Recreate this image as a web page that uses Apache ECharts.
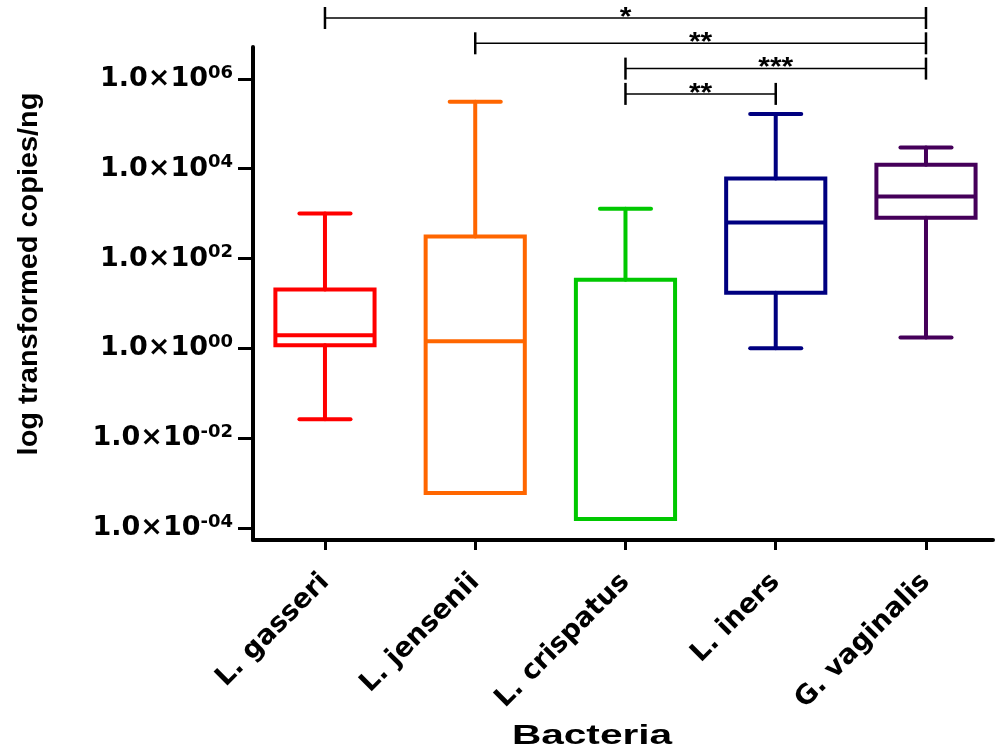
<!DOCTYPE html>
<html>
<head>
<meta charset="utf-8">
<script src="https://cdn.jsdelivr.net/npm/echarts@6.0.0/dist/echarts.min.js"></script>
<style>
  html, body { margin: 0; padding: 0; background: #fff; }
  #main { width: 995px; height: 755px; }
</style>
</head>
<body>
<div id="main"></div>
<script>
// categories on the x axis
var categories = ['L. gasseri', 'L. jensenii', 'L. crispatus', 'L. iners', 'G. vaginalis'];
// box plot values, log10(copies/ng)
var whiskerLow  = [-1.58, -3.22, -3.80, 0.00, 0.24];
var quartile1   = [ 0.07, -3.22, -3.80, 1.24, 2.91];
var medians     = [ 0.29,  0.16, -3.80, 2.80, 3.38];
var quartile3   = [ 1.31,  2.49,  1.53, 3.78, 4.09];
var whiskerHigh = [ 3.00,  5.49,  3.11, 5.22, 4.47];
// y tick exponents
var yTicks = [-4, -2, 0, 2, 4, 6];
// significance brackets
var compFrom  = [0, 1, 2, 2];
var compTo    = [4, 4, 4, 3];
var compLabel = ['*', '**', '***', '**'];

var palette = ['#FF0000', '#FF6600', '#00C800', '#000080', '#45005A'];

var boxData = categories.map(function (c, i) {
  return [i, whiskerLow[i], quartile1[i], medians[i], quartile3[i], whiskerHigh[i]];
});
var bracketData = compFrom.map(function (f, i) { return [f, compTo[i]]; });

function expLabel (v) {
  var n = Math.round(v);
  var s = (n < 0 ? '-' : '') + (Math.abs(n) < 10 ? '0' : '') + Math.abs(n);
  return '{m|1.0\u00d710}{e|' + s + '}';
}

function renderBox (params, api) {
  var i = api.value(0);
  var band = api.size([1, 0])[0];
  var hb = band * 0.33, hc = band * 0.17;
  var p = function (k) { return api.coord([i, api.value(k)]); };
  var lo = p(1), q1 = p(2), md = p(3), q3 = p(4), hi = p(5);
  var cx = md[0];
  var st = { stroke: palette[i], lineWidth: 4, lineCap: 'round' };
  var ch = [];
  if (api.value(5) > api.value(4)) {
    ch.push({ type: 'line', shape: { x1: cx, y1: q3[1], x2: cx, y2: hi[1] }, style: st });
    ch.push({ type: 'line', shape: { x1: cx - hc, y1: hi[1], x2: cx + hc, y2: hi[1] }, style: st });
  }
  if (api.value(1) < api.value(2)) {
    ch.push({ type: 'line', shape: { x1: cx, y1: q1[1], x2: cx, y2: lo[1] }, style: st });
    ch.push({ type: 'line', shape: { x1: cx - hc, y1: lo[1], x2: cx + hc, y2: lo[1] }, style: st });
  }
  ch.push({ type: 'rect', shape: { x: cx - hb, y: q3[1], width: hb * 2, height: q1[1] - q3[1] },
    style: { stroke: palette[i], lineWidth: 4, fill: 'transparent' } });
  ch.push({ type: 'line', shape: { x1: cx - hb, y1: md[1], x2: cx + hb, y2: md[1] },
    style: { stroke: palette[i], lineWidth: 4 } });
  return { type: 'group', children: ch };
}

function renderBracket (params, api) {
  var a = api.coord([api.value(0), 0])[0];
  var b = api.coord([api.value(1), 0])[0];
  var y = params.coordSys.y - 29 + params.dataIndex * 25.3;
  var st = { stroke: '#000', lineWidth: 1.5 };
  var tk = { stroke: '#000', lineWidth: 2.5 };
  return {
    type: 'group',
    children: [
      { type: 'line', shape: { x1: a, y1: y, x2: b, y2: y }, style: st },
      { type: 'line', shape: { x1: a, y1: y - 11, x2: a, y2: y + 11 }, style: tk },
      { type: 'line', shape: { x1: b, y1: y - 11, x2: b, y2: y + 11 }, style: tk },
      { type: 'text', x: (a + b) / 2, y: y, scaleX: 1.2,
        style: { text: compLabel[params.dataIndex], font: 'bold 25px "Liberation Sans"', fill: '#000',
          align: 'center', verticalAlign: 'middle' } }
    ]
  };
}

var myChart = echarts.init(document.getElementById('main'));
var option = {
  animation: false,
  backgroundColor: '#fff',
  grid: { left: 253, right: 2, top: 47, bottom: 215 },
  xAxis: {
    type: 'value',
    min: -0.479,
    max: 4.446,
    splitLine: { show: false },
    axisLine: { show: true, onZero: false, lineStyle: { color: '#000', width: 4 } },
    axisTick: { show: true, customValues: [0, 1, 2, 3, 4], length: 10, lineStyle: { color: '#000', width: 3 } },
    axisLabel: {
      customValues: [0, 1, 2, 3, 4],
      formatter: function (v) { return categories[Math.round(v)]; },
      rotate: 45,
      margin: 38,
      color: '#000',
      fontFamily: 'DejaVu Sans',
      fontWeight: 'bold',
      fontSize: 27
    }
  },
  yAxis: {
    type: 'value',
    min: -4.267,
    max: 6.71,
    splitLine: { show: false },
    axisLine: { show: true, onZero: false, lineStyle: { color: '#000', width: 4 } },
    axisTick: { show: true, customValues: yTicks, length: 15, lineStyle: { color: '#000', width: 3 } },
    axisLabel: {
      customValues: yTicks,
      formatter: expLabel,
      margin: 20,
      rich: {
        m: { fontFamily: 'DejaVu Sans', fontWeight: 'bold', fontSize: 27, lineHeight: 30, color: '#000' },
        e: { fontFamily: 'DejaVu Sans', fontWeight: 'bold', fontSize: 18, lineHeight: 18, color: '#000', verticalAlign: 'top' }
      }
    }
  },
  graphic: [
    { type: 'text', x: 30, y: 274, rotation: Math.PI / 2, scaleX: 1.07,
      style: { text: 'log transformed copies/ng', font: 'bold 27px "Liberation Sans"', fill: '#000',
        align: 'center', verticalAlign: 'middle' } },
    { type: 'text', x: 592, y: 736, scaleX: 1.45,
      style: { text: 'Bacteria', font: 'bold 28px "Liberation Sans"', fill: '#000',
        align: 'center', verticalAlign: 'middle' } }
  ],
  series: [
    {
      type: 'custom',
      name: 'boxes',
      renderItem: renderBox,
      encode: { x: 0, y: [1, 2, 3, 4, 5] },
      data: boxData,
      clip: false
    },
    {
      type: 'custom',
      name: 'brackets',
      renderItem: renderBracket,
      encode: { x: [0, 1] },
      data: bracketData,
      clip: false
    }
  ]
};
myChart.setOption(option);
</script>
</body>
</html>
